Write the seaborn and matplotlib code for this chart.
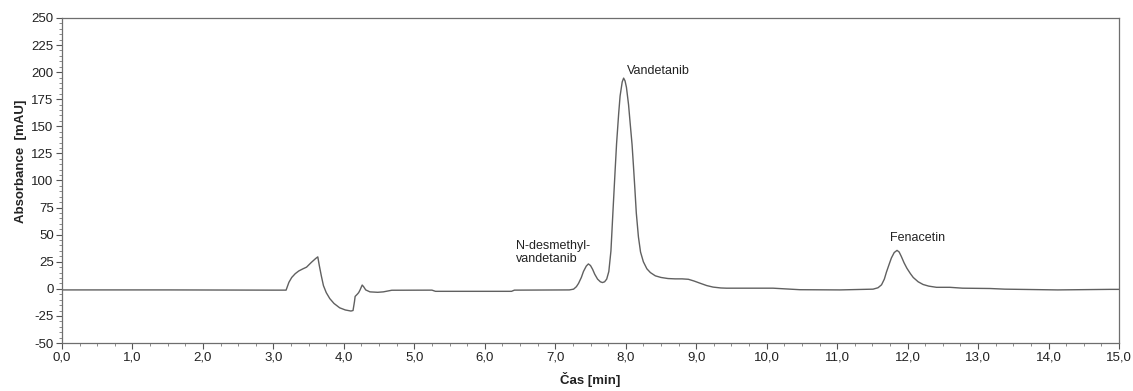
import numpy as np
import pandas as pd
import matplotlib
matplotlib.use("Agg")
import matplotlib.pyplot as plt
from matplotlib.ticker import MultipleLocator
import seaborn as sns

# ---- data ----
time_min = [0.0, 1.5, 3.0, 3.18, 3.22, 3.26, 3.31, 3.36, 3.42, 3.47, 3.54, 3.60, 3.63,
            3.65, 3.68, 3.71, 3.75, 3.80, 3.86, 3.94, 4.02, 4.10, 4.13, 4.15, 4.16,
            4.19, 4.21, 4.23, 4.26, 4.28, 4.31, 4.37, 4.48, 4.56, 4.68, 5.25, 5.30,
            6.38, 6.42, 7.20, 7.26, 7.30, 7.33, 7.37, 7.40, 7.44, 7.47, 7.50, 7.53,
            7.56, 7.60, 7.64, 7.67, 7.70, 7.73, 7.76, 7.79, 7.82, 7.85, 7.87, 7.90,
            7.92, 7.95, 7.97, 7.99, 8.01, 8.04, 8.06, 8.09, 8.11, 8.13, 8.15, 8.18,
            8.21, 8.25, 8.30, 8.35, 8.42, 8.50, 8.60, 8.70, 8.80, 8.89, 8.97, 9.05,
            9.15, 9.24, 9.35, 9.43, 10.09, 10.47, 11.04, 11.51, 11.58, 11.63, 11.67,
            11.70, 11.74, 11.77, 11.81, 11.85, 11.88, 11.91, 11.95, 11.99, 12.04,
            12.08, 12.15, 12.22, 12.30, 12.41, 12.60, 12.78, 13.17, 13.38, 14.13,
            14.87, 15.0]
absorbance = [-1.0, -1.0, -1.2, -1.2, 6.0, 10.5, 14.0, 16.5, 18.5, 20.0, 24.5, 28.0, 29.5,
              22.0, 12.0, 3.0, -3.5, -9.0, -13.5, -17.5, -19.5, -20.5, -20.0, -12.0, -7.0,
              -5.0, -3.5, -1.0, 3.5, 2.0, -1.0, -2.8, -3.2, -2.8, -1.3, -1.2, -2.3,
              -2.3, -1.2, -1.0, -0.3, 2.0, 5.0, 10.5, 16.0, 21.0, 23.0, 21.5, 18.0,
              13.5, 9.0, 6.5, 5.8, 6.5, 9.0, 16.0, 35.0, 73.0, 110.0, 134.0, 162.0,
              178.0, 191.0, 194.5, 192.0, 186.0, 170.0, 155.0, 133.0, 113.0, 92.0, 70.0, 48.0,
              34.0, 25.0, 18.5, 15.0, 12.0, 10.5, 9.5, 9.2, 9.2, 8.8, 7.2, 5.3,
              3.0, 1.6, 0.8, 0.6, 0.6, -0.8, -1.0, -0.3, 1.0, 3.7, 9.0,
              15.5, 23.0, 28.5, 33.5, 35.5, 34.0, 30.0, 24.0, 19.0, 14.0,
              10.5, 6.5, 4.0, 2.5, 1.4, 1.4, 0.6, 0.3, -0.3, -1.0,
              -0.5, -0.5]

x_ticks = [0, 1, 2, 3, 4, 5, 6, 7, 8, 9, 10, 11, 12, 13, 14, 15]
x_tick_labels = ["0,0", "1,0", "2,0", "3,0", "4,0", "5,0", "6,0", "7,0", "8,0",
                 "9,0", "10,0", "11,0", "12,0", "13,0", "14,0", "15,0"]
y_ticks = [-50, -25, 0, 25, 50, 75, 100, 125, 150, 175, 200, 225, 250]

peak_labels = ["N-desmethyl-\nvandetanib", "Vandetanib", "Fenacetin"]
label_x = [6.44, 8.02, 11.75]
label_y = [33.5, 201.0, 47.0]

df = pd.DataFrame({"t": time_min, "A": absorbance})

sns.set_theme(style="white")
plt.rcParams["font.family"] = ["Liberation Sans", "DejaVu Sans"]

fig = plt.figure(figsize=(11.33, 3.91), dpi=100)
ax = fig.add_axes([62 / 1133, 1 - 343 / 391, (1119 - 62) / 1133, (343 - 18) / 391])

sns.lineplot(data=df, x="t", y="A", ax=ax, color="#606060", linewidth=1.0,
             estimator=None, sort=False)

ax.set_xlim(0, 15)
ax.set_ylim(-50, 250)
ax.set_xticks(x_ticks)
ax.set_xticklabels(x_tick_labels)
ax.set_yticks(y_ticks)
ax.set_yticklabels([str(v) for v in y_ticks])
ax.xaxis.set_minor_locator(MultipleLocator(0.25))
ax.yaxis.set_minor_locator(MultipleLocator(5))
ax.tick_params(axis="both", which="major", direction="out", length=4, width=0.8,
               color="#555555", labelsize=9.5, labelcolor="#222222", pad=2,
               bottom=True, left=True)
ax.tick_params(axis="both", which="minor", direction="out", length=2, width=0.6,
               color="#777777", bottom=True, left=True)

for s in ax.spines.values():
    s.set_color("#6e6e6e")
    s.set_linewidth(0.9)

ax.set_xlabel("Čas [min]", fontsize=9.5, fontweight="bold", color="#222222")
ax.set_ylabel("Absorbance  [mAU]", fontsize=9.5, fontweight="bold", color="#222222")
ax.xaxis.set_label_coords(0.5, -0.09)
ax.yaxis.set_label_coords(-0.033, 0.56)

for txt, xx, yy in zip(peak_labels, label_x, label_y):
    ax.text(xx, yy, txt, fontsize=9, color="#222222", ha="left", va="center",
            linespacing=1.15)

fig.savefig("out.png", dpi=100)
